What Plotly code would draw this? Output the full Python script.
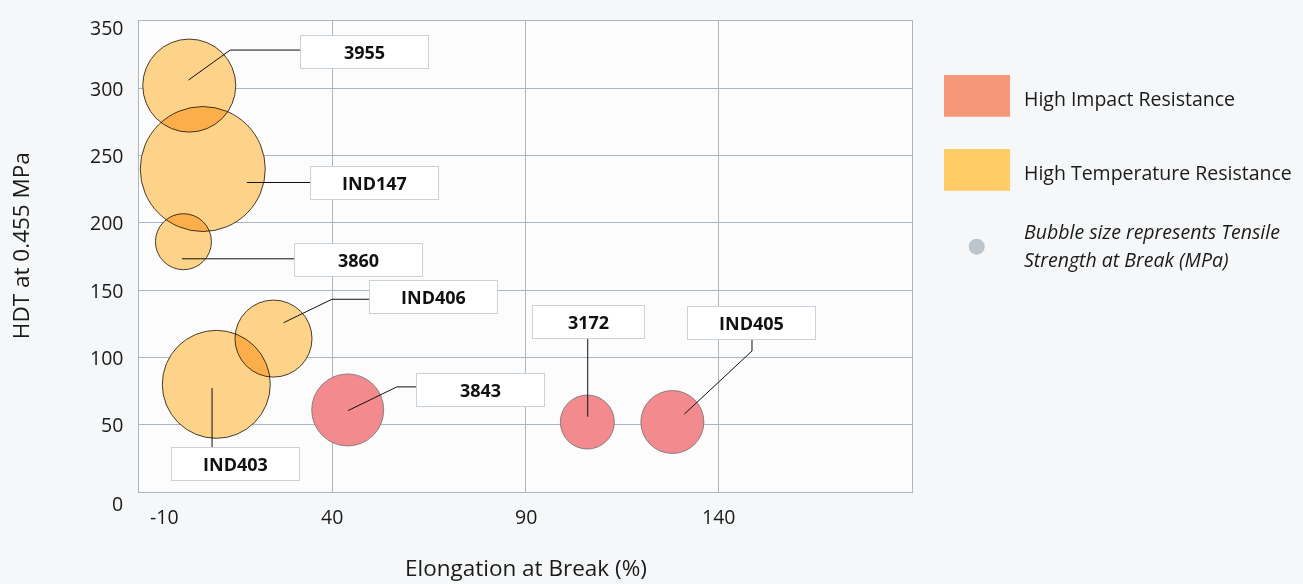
import plotly.graph_objects as go

# ---------------- data ----------------
grades = ["3955", "IND147", "3860", "IND406", "IND403", "3843", "3172", "IND405"]
elongation = [3, 6.5, 1.5, 24.8, 10, 44, 106, 128]          # Elongation at Break (%)
hdt = [302, 240, 186, 114, 80, 61, 52, 52]                   # HDT at 0.455 MPa
tensile = [93, 125, 56, 77, 108, 72, 54, 63]                 # Tensile Strength at Break (MPa)
group = ["HT", "HT", "HT", "HT", "HT", "HI", "HI", "HI"]

x_ticks = [-10, 40, 90, 140]
y_ticks = [0, 50, 100, 150, 200, 250, 300, 350]

legend_items = ["High Impact Resistance", "High Temperature Resistance"]
legend_note = ["Bubble size represents Tensile", "Strength at Break (MPa)"]

# label placement (box centre + connector path, in data units)
label_box = {
    "3955":   (48.3, 327.1, 127),
    "IND147": (50.9, 229.9, 127),
    "3860":   (46.7, 172.7, 127),
    "IND406": (66.1, 145.1, 127),
    "IND403": (15.0, 20.6, 127),
    "3843":   (78.4, 75.8, 127),
    "3172":   (106.3, 126.1, 111),
    "IND405": (148.6, 125.8, 127),
}
connectors = {
    "3955":   [(2.8, 306.1), (13.6, 328.4), (31.7, 328.4)],
    "IND147": [(17.9, 230.0), (34.3, 230.0)],
    "3860":   [(1.1, 173.3), (30.2, 173.3)],
    "IND406": [(27.4, 125.8), (39.9, 143.2), (49.6, 143.2)],
    "IND403": [(8.9, 77.2), (8.9, 33.4)],
    "3843":   [(44.1, 60.5), (56.7, 78.1), (62.0, 78.1)],
    "3172":   [(106.1, 55.9), (106.1, 114.3)],
    "IND405": [(131.1, 57.9), (148.6, 104.8), (148.6, 113.5)],
}

FONT = "Open Sans"
TXT = "#1a1a1a"
GRID = "#aab6c2"

fill = {"HT": "#fdd389", "HI": "#f28a8e"}
edge = {"HT": "rgba(50,40,30,0.9)", "HI": "rgba(110,110,110,0.8)"}

fig = go.Figure()
for g in ["HT", "HI"]:
    idx = [i for i, v in enumerate(group) if v == g]
    fig.add_trace(go.Scatter(
        x=[elongation[i] for i in idx],
        y=[hdt[i] for i in idx],
        text=[grades[i] for i in idx],
        mode="markers",
        marker=dict(size=[tensile[i] for i in idx], sizemode="diameter", sizeref=1,
                    opacity=1, color=fill[g], line=dict(color=edge[g], width=1)),
        hoverinfo="text",
        showlegend=False,
    ))

shapes = []
annotations = []

# connectors
for name, pts in connectors.items():
    path = "M " + " L ".join(f"{x},{y}" for x, y in pts)
    shapes.append(dict(type="path", path=path, xref="x", yref="y",
                       line=dict(color="#111111", width=1)))

# label boxes
for name, (bx, by, w) in label_box.items():
    annotations.append(dict(
        x=bx, y=by, xref="x", yref="y", text=f"<b>{name}</b>", showarrow=False,
        width=w, height=32, bgcolor="#ffffff", bordercolor="#c9d1d9", borderwidth=1,
        borderpad=0, font=dict(family=FONT, size=18, color="#111111"),
        xanchor="center", yanchor="middle"))

# tick labels
for v in x_ticks:
    annotations.append(dict(x=v, y=-0.051, xref="x", yref="paper", text=str(v),
                            showarrow=False, xanchor="center", yanchor="middle",
                            xshift=25 if v == x_ticks[0] else 0,
                            font=dict(family=FONT, size=19.5, color=TXT)))
for v in y_ticks:
    ys = -11 if v == y_ticks[0] else (-6 if v == y_ticks[-1] else 0)
    annotations.append(dict(x=-0.0175, y=v, xref="paper", yref="y", text=str(v),
                            showarrow=False, xanchor="right", yanchor="middle",
                            yshift=ys,
                            font=dict(family=FONT, size=19.5, color=TXT)))

# axis titles
annotations.append(dict(x=0.5, y=-0.161, xref="paper", yref="paper",
                        text="Elongation at Break (%)", showarrow=False,
                        xanchor="center", yanchor="middle",
                        font=dict(family=FONT, size=22.5, color=TXT)))
annotations.append(dict(x=-0.154, y=0.524, xref="paper", yref="paper",
                        text="HDT at 0.455 MPa", showarrow=False, textangle=-90,
                        xanchor="center", yanchor="middle",
                        font=dict(family=FONT, size=22.5, color=TXT)))

# custom legend
sw_colors = ["#f7977a", "#ffcc66"]
sw_y = [(0.8854, 0.7968), (0.7282, 0.6397)]
txt_y = [0.8359, 0.6779]
for c, (y0, y1), ty, lab in zip(sw_colors, sw_y, txt_y, legend_items):
    shapes.append(dict(type="rect", xref="paper", yref="paper", x0=1.0414, x1=1.1268,
                       y0=y1, y1=y0, fillcolor=c, line=dict(width=0)))
    annotations.append(dict(x=1.1423, y=ty, xref="paper", yref="paper", text=lab,
                            showarrow=False, xanchor="left", yanchor="middle",
                            font=dict(family=FONT, size=19.5, color=TXT)))
shapes.append(dict(type="circle", xref="paper", yref="paper",
                   x0=1.0837 - 8 / 773, x1=1.0837 + 8 / 773,
                   y0=0.5208 - 8 / 471, y1=0.5208 + 8 / 471,
                   fillcolor="#bcc4cc", line=dict(width=0)))
for ly, line in zip([0.5531, 0.4946], legend_note):
    annotations.append(dict(x=1.1423, y=ly, xref="paper", yref="paper",
                            text=f"<i>{line}</i>", showarrow=False,
                            xanchor="left", yanchor="middle",
                            font=dict(family=FONT, size=19.5, color=TXT)))

fig.update_layout(
    width=1303, height=584,
    margin=dict(l=139, r=391, t=21, b=92),
    paper_bgcolor="#f6f7f8",
    plot_bgcolor="#fcfcfd",
    shapes=shapes,
    annotations=annotations,
    xaxis=dict(range=[-10, 190], tickvals=[-10, 40, 90, 140, 190], showticklabels=False,
               showgrid=True, gridcolor=GRID, gridwidth=1, zeroline=False,
               showline=True, linecolor=GRID, linewidth=1, mirror=True, ticks=""),
    yaxis=dict(range=[0, 350], tickvals=y_ticks, showticklabels=False,
               showgrid=True, gridcolor=GRID, gridwidth=1, zeroline=False,
               showline=True, linecolor=GRID, linewidth=1, mirror=True, ticks=""),
)

fig.write_html(
    "out.html",
    config={"displayModeBar": False},
    post_script=(
        "document.body.style.margin='0px';"
        "document.body.style.overflow='hidden';"
        "var s=document.createElement('style');"
        "s.textContent='.scatterlayer .point{mix-blend-mode:multiply;}';"
        "document.head.appendChild(s);"
    ),
)
